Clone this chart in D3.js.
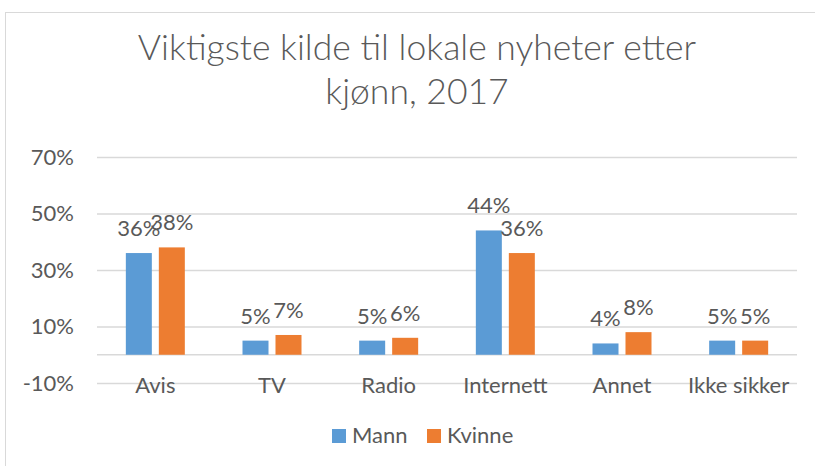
<!DOCTYPE html>
<html>
<head>
<meta charset="utf-8">
<script src="https://cdn.jsdelivr.net/npm/d3@7"></script>
<style>
  body { margin: 0; background: #fff; }
  text { font-family: "Lato", "Open Sans", sans-serif; fill: #595959; }
</style>
</head>
<body>
<div class="chart"></div>
<script>
var categories = ["Avis", "TV", "Radio", "Internett", "Annet", "Ikke sikker"];
var series = ["Mann", "Kvinne"];
var mann = [0.36, 0.05, 0.05, 0.44, 0.04, 0.05];
var kvinne = [0.38, 0.07, 0.06, 0.36, 0.08, 0.05];
var yTicks = [-0.1, 0.1, 0.3, 0.5, 0.7];
var titleLines = ["Viktigste kilde til lokale nyheter etter", "kjønn, 2017"];

var width = 815, height = 466;
var plotLeft = 97, plotRight = 797, plotTop = 157, plotBottom = 383;

var color = d3.scaleOrdinal().domain(series).range(["#5B9BD5", "#ED7D31"]);
var pct = function(v) { return Math.round(v * 100) + "%"; };

var svg = d3.select(".chart").append("svg")
    .attr("width", width)
    .attr("height", height);

svg.append("rect")
    .attr("x", 5.5).attr("y", 12.5)
    .attr("width", 840).attr("height", 480)
    .attr("fill", "#fff")
    .attr("stroke", "#d9d9d9");

// title
svg.selectAll(".title")
    .data(titleLines)
    .enter().append("text")
    .attr("class", "title")
    .attr("x", 417)
    .attr("y", function(d, i) { return 60 + i * 44; })
    .attr("font-size", "35.5px")
    .attr("font-weight", 300)
    .style("text-anchor", "middle")
    .text(function(d) { return d; });

var y = d3.scaleLinear().domain([-0.1, 0.7]).range([plotBottom, plotTop]);
var x0 = d3.scaleBand().domain(categories).range([plotLeft, plotRight]);
var x1 = d3.scaleBand().domain(series).range([0, x0.bandwidth()])
    .paddingInner(0.212).paddingOuter(0.874);

// gridlines + y labels
var yAxis = svg.append("g")
    .attr("transform", "translate(" + plotLeft + ",0)")
    .call(d3.axisLeft(y).tickValues(yTicks).tickFormat(pct)
        .tickSize(-(plotRight - plotLeft)).tickPadding(23));
yAxis.select(".domain").remove();
yAxis.selectAll("line").attr("stroke", "#d9d9d9").attr("stroke-width", 1.5);
yAxis.selectAll("text").attr("font-size", "22px").attr("fill", "#595959");

// baseline
svg.append("line")
    .attr("x1", plotLeft).attr("x2", plotRight)
    .attr("y1", y(0)).attr("y2", y(0))
    .attr("stroke", "#d9d9d9").attr("stroke-width", 1.5);

// category labels
var xAxis = svg.append("g")
    .attr("transform", "translate(0," + y(0) + ")")
    .call(d3.axisBottom(x0).tickSize(0).tickPadding(23));
xAxis.select(".domain").remove();
xAxis.selectAll("text").attr("font-size", "22px").attr("fill", "#595959");

var rows = categories.map(function(c, i) {
  return {cat: c, values: [{s: "Mann", v: mann[i]}, {s: "Kvinne", v: kvinne[i]}]};
});

var groups = svg.selectAll(".grp")
    .data(rows)
    .enter().append("g")
    .attr("class", "grp")
    .attr("transform", function(d) { return "translate(" + x0(d.cat) + ",0)"; });

groups.selectAll("rect")
    .data(function(d) { return d.values; })
    .enter().append("rect")
    .attr("x", function(d) { return x1(d.s); })
    .attr("y", function(d) { return y(d.v); })
    .attr("width", x1.bandwidth())
    .attr("height", function(d) { return y(0) - y(d.v); })
    .attr("fill", function(d) { return color(d.s); });

groups.selectAll(".lbl")
    .data(function(d) { return d.values; })
    .enter().append("text")
    .attr("class", "lbl")
    .attr("x", function(d) { return x1(d.s) + x1.bandwidth() / 2; })
    .attr("y", function(d) { return y(d.v) - 17; })
    .attr("font-size", "22px")
    .style("text-anchor", "middle")
    .text(function(d) { return pct(d.v); });

// legend
var legendX = [332, 427];
var legend = svg.selectAll(".legend")
    .data(series)
    .enter().append("g")
    .attr("class", "legend")
    .attr("transform", function(d, i) { return "translate(" + legendX[i] + ",429)"; });
legend.append("rect")
    .attr("width", 14).attr("height", 14)
    .attr("fill", function(d) { return color(d); });
legend.append("text")
    .attr("x", 20).attr("y", 14)
    .attr("font-size", "22px")
    .text(function(d) { return d; });
</script>
</body>
</html>
